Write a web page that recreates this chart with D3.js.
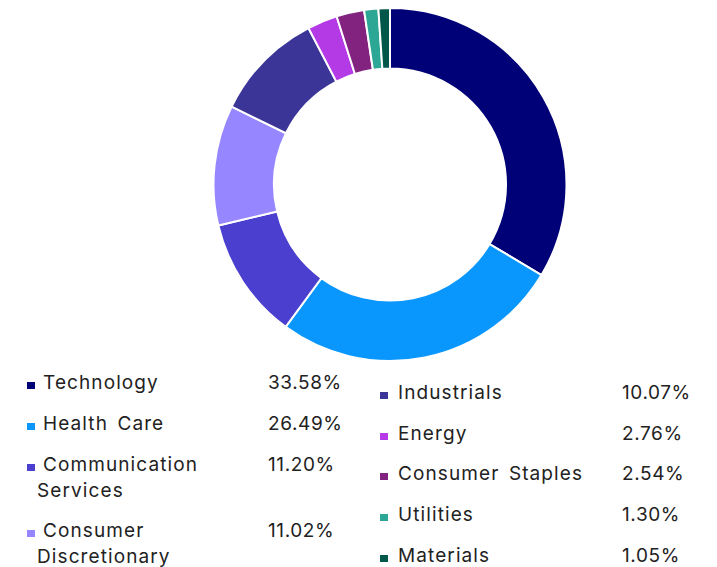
<!DOCTYPE html>
<html>
<head>
<meta charset="utf-8">
<script src="https://cdn.jsdelivr.net/npm/d3@7"></script>
<style>
  html, body { margin: 0; padding: 0; background: #fff; }
  svg { display: block; }
  text { font-family: Inter, "Liberation Sans", Arial, sans-serif; fill: #222; }
</style>
</head>
<body>
<svg id="chart" width="717" height="567"></svg>
<script>
// Sector allocation
const sectors = ["Technology", "Health Care", "Communication Services", "Consumer Discretionary",
                 "Industrials", "Energy", "Consumer Staples", "Utilities", "Materials"];
const weights = [33.58, 26.49, 11.20, 11.02, 10.07, 2.76, 2.54, 1.30, 1.05];
const colors  = ["#000077", "#0a97fd", "#4a3fcf", "#9686ff", "#3b3598", "#b43ae6", "#82247f", "#2ca795", "#00574a"];
// Legend labels (wrapped lines) and displayed values
const labelLines = [["Technology"], ["Health Care"], ["Communication", "Services"], ["Consumer", "Discretionary"],
                    ["Industrials"], ["Energy"], ["Consumer Staples"], ["Utilities"], ["Materials"]];
const valueLabels = ["33.58%", "26.49%", "11.20%", "11.02%", "10.07%", "2.76%", "2.54%", "1.30%", "1.05%"];

const svg = d3.select("#chart");
const cx = 390, cy = 184.5, rOuter = 176.5, rInner = 116;

const data = sectors.map((s, i) => ({ name: s, value: weights[i], color: colors[i], lines: labelLines[i], label: valueLabels[i] }));

const pie = d3.pie().value(d => d.value).sort(null);
const arc = d3.arc().innerRadius(rInner).outerRadius(rOuter);

svg.append("g")
  .attr("transform", `translate(${cx},${cy})`)
  .selectAll("path")
  .data(pie(data))
  .join("path")
  .attr("d", arc)
  .attr("fill", d => d.data.color)
  .attr("stroke", "#fff")
  .attr("stroke-width", 2);

// Legend: two columns
const cols = [
  { items: data.slice(0, 4), sq: 27, tx: 43, vx: 268, base: [389, 430, 471, 537] },
  { items: data.slice(4), sq: 380, tx: 398, vx: 622, base: [399, 440, 480, 521, 562] }
];
const lineH = 26;

cols.forEach(col => {
  col.items.forEach((d, i) => {
    const b = col.base[i];
    const g = svg.append("g");
    g.append("rect")
      .attr("x", col.sq).attr("y", b - 7)
      .attr("width", 8).attr("height", 7)
      .attr("fill", d.color);
    d.lines.forEach((ln, j) => {
      g.append("text")
        .attr("x", j === 0 ? col.tx : col.tx - 6)
        .attr("y", b + j * lineH)
        .attr("font-size", 19)
        .attr("letter-spacing", "1.1px")
        .attr("word-spacing", "3px")
        .text(ln);
    });
    g.append("text")
      .attr("x", col.vx)
      .attr("y", b)
      .attr("font-size", 19)
      .attr("letter-spacing", "0.6px")
      .text(d.label);
  });
});
</script>
</body>
</html>
